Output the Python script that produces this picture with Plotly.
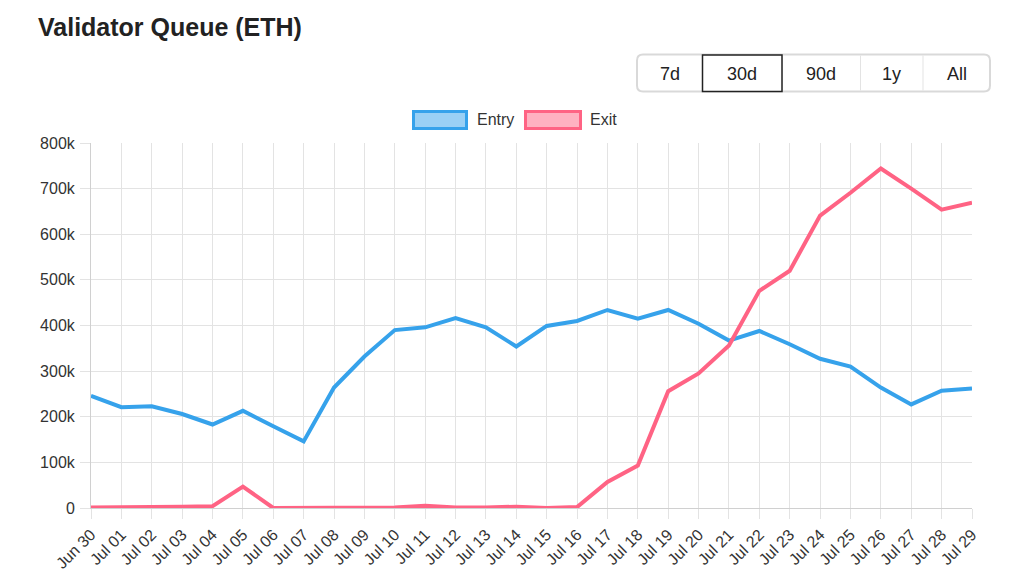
import plotly.graph_objects as go

# ---------------- data ----------------
dates = ["Jun 30"] + [f"Jul {d:02d}" for d in range(1, 30)]
entry = [246, 221, 223, 206, 183, 213, 179, 146, 264, 332, 390, 396, 416, 396, 354,
         399, 410, 434, 415, 434, 404, 367, 388, 359, 327, 310, 264, 227, 257, 262]
exit_ = [1, 1, 1, 3, 4, 47, 0, 0, 0, 1, 1, 5, 1, 1, 3,
         0, 2, 57, 93, 256, 295, 356, 476, 520, 641, 691, 744, 700, 654, 669]
entry_vals = [v * 1000 for v in entry]
exit_vals = [v * 1000 for v in exit_]
y_ticks = [0, 100000, 200000, 300000, 400000, 500000, 600000, 700000, 800000]
y_tick_text = ["0", "100k", "200k", "300k", "400k", "500k", "600k", "700k", "800k"]
ranges = ["7d", "30d", "90d", "1y", "All"]
selected_range = "30d"

BLUE = "#36A2EB"
RED = "#FF6384"
FONT = "Liberation Sans, Arial, Helvetica, sans-serif"

# ---------------- layout geometry (window pixels) ----------------
OFF = 8  # page body margin
WIN_W, WIN_H = 1024, 587
W, H = WIN_W - OFF, WIN_H - OFF
# plot area in window pixels: x 91..972, y 143..508
PX0, PX1, PY0, PY1 = 91, 972, 143, 508
L, T = PX0 - OFF, PY0 - OFF
R, B = W - (PX1 - OFF), H - (PY1 - OFF)
PW, PH = PX1 - PX0, PY1 - PY0


def xp(px):
    return (px - PX0) / PW


def yp(py):
    return (PY1 - py) / PH


fig = go.Figure()
fig.add_trace(go.Scatter(x=dates, y=entry_vals, mode="lines", name="Entry",
                         line=dict(color=BLUE, width=4), showlegend=False))
fig.add_trace(go.Scatter(x=dates, y=exit_vals, mode="lines", name="Exit",
                         line=dict(color=RED, width=4), showlegend=False))

shapes = []
annotations = []

# title
annotations.append(dict(text="Validator Queue (ETH)", xref="paper", yref="paper",
                        x=xp(36), y=yp(27), xanchor="left", yanchor="middle",
                        showarrow=False, font=dict(family=FONT, size=25, color="#222", weight="bold")))


def rounded_rect(x0, y0, x1, y1, r):
    return (f"M {xp(x0 + r)} {yp(y0)} L {xp(x1 - r)} {yp(y0)} "
            f"Q {xp(x1)} {yp(y0)} {xp(x1)} {yp(y0 + r)} "
            f"L {xp(x1)} {yp(y1 - r)} Q {xp(x1)} {yp(y1)} {xp(x1 - r)} {yp(y1)} "
            f"L {xp(x0 + r)} {yp(y1)} Q {xp(x0)} {yp(y1)} {xp(x0)} {yp(y1 - r)} "
            f"L {xp(x0)} {yp(y0 + r)} Q {xp(x0)} {yp(y0)} {xp(x0 + r)} {yp(y0)} Z")


# range selector (segmented control)
shapes.append(dict(type="path", xref="paper", yref="paper",
                   path=rounded_rect(637, 54.5, 990, 91.5, 6),
                   line=dict(color="#d9d9d9", width=2), fillcolor="white", layer="above"))
bounds = [637, 702.5, 782, 860.5, 923, 990]
for bx in bounds[1:-1]:
    shapes.append(dict(type="line", xref="paper", yref="paper",
                       x0=xp(bx), x1=xp(bx), y0=yp(55.5), y1=yp(90.5),
                       line=dict(color="#e3e3e3", width=1), layer="above"))
for i, lab in enumerate(ranges):
    cx = (bounds[i] + bounds[i + 1]) / 2
    if lab == selected_range:
        shapes.append(dict(type="rect", xref="paper", yref="paper",
                           x0=xp(bounds[i]), x1=xp(bounds[i + 1]), y0=yp(55), y1=yp(91.5),
                           line=dict(color="#222", width=1.5), fillcolor="white", layer="above"))
    annotations.append(dict(text=lab, xref="paper", yref="paper", x=xp(cx), y=yp(74),
                            xanchor="center", yanchor="middle", showarrow=False,
                            font=dict(family=FONT, size=18, color="#222")))

# legend (Chart.js style boxes)
for (name, col, fill, bx0, bx1, tx) in [
        ("Entry", BLUE, "rgba(54,162,235,0.5)", 413.5, 466.5, 475),
        ("Exit", RED, "rgba(255,99,132,0.5)", 525.5, 580.5, 588)]:
    shapes.append(dict(type="rect", xref="paper", yref="paper",
                       x0=xp(bx0), x1=xp(bx1), y0=yp(111.5), y1=yp(128.5),
                       line=dict(color=col, width=3), fillcolor=fill, layer="above"))
    annotations.append(dict(text=name, xref="paper", yref="paper", x=xp(tx), y=yp(120),
                            xanchor="left", yanchor="middle", showarrow=False,
                            font=dict(family=FONT, size=16, color="#333")))

fig.update_layout(
    width=W, height=H,
    margin=dict(l=L, r=R, t=T, b=B, pad=0),
    paper_bgcolor="white", plot_bgcolor="white",
    font=dict(family=FONT, size=16, color="#333"),
    shapes=shapes, annotations=annotations,
    showlegend=False,
    xaxis=dict(type="category", range=[0, len(dates) - 1], tickangle=-45,
               showgrid=True, gridcolor="#e3e3e3", gridwidth=1,
               ticks="outside", ticklen=10, tickcolor="#e3e3e3",
               showline=True, linecolor="#d0d0d0", linewidth=1,
               tickfont=dict(family=FONT, size=16, color="#333"),
               zeroline=False, fixedrange=True),
    yaxis=dict(range=[0, 800000], tickvals=y_ticks, ticktext=y_tick_text,
               showgrid=True, gridcolor="#e3e3e3", gridwidth=1,
               ticks="outside", ticklen=10, tickcolor="#e3e3e3",
               showline=True, linecolor="#d0d0d0", linewidth=1,
               ticklabelstandoff=2,
               tickfont=dict(family=FONT, size=16, color="#333"),
               zeroline=False, fixedrange=True),
)

fig.write_html("out.html", config={"displayModeBar": False})
